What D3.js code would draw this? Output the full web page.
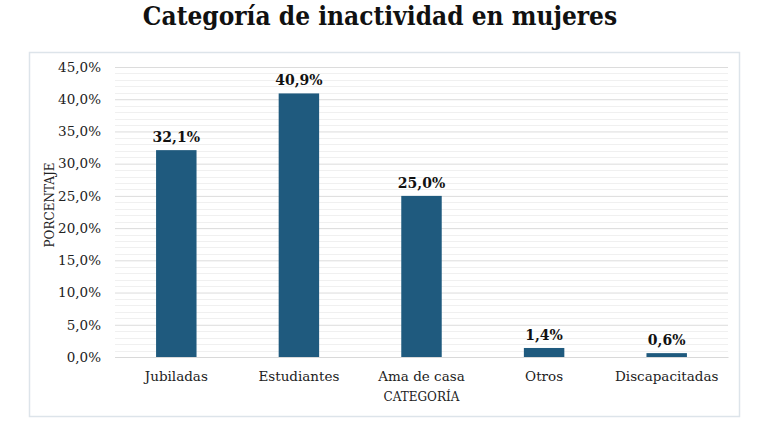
<!DOCTYPE html>
<html><head><meta charset="utf-8">
<script src="https://cdn.jsdelivr.net/npm/d3@7"></script>
<style>body{margin:0;background:#fff;} svg{display:block;}</style>
</head><body>
<svg id="c" width="768" height="437"></svg>
<script>
const categories = ["Jubiladas","Estudiantes","Ama de casa","Otros","Discapacitadas"];
const values = [32.1, 40.9, 25.0, 1.4, 0.6];
const yTicks = [0,5,10,15,20,25,30,35,40,45];
const minorTicks = d3.range(0,46,1);
const title = "Categoría de inactividad en mujeres";
const yTitle = "PORCENTAJE";
const xTitle = "CATEGORÍA";

(function(){
const svg = d3.select("#c");
const font = "'DejaVu Serif', serif";
const pL = 115, pR = 728, pT = 67, pB = 357;
const fmt = v => v.toFixed(1).replace(".", ",") + "%";

// outer frame
svg.append("rect").attr("x",29.5).attr("y",52.5).attr("width",710).attr("height",364)
  .attr("fill","#fff").attr("stroke","#dde4ea").attr("stroke-width",1.5);

svg.append("text").attr("x",380).attr("y",25).attr("text-anchor","middle")
  .attr("font-family","'DejaVu Serif Condensed', 'DejaVu Serif', serif").attr("font-weight","bold").attr("font-size",26)
  .attr("fill","#111").text(title);

const x = d3.scaleBand().domain(categories).range([pL,pR]).paddingInner(0.67).paddingOuter(0.335);
const y = d3.scaleLinear().domain([0,45]).range([pB,pT]);

// minor grid
svg.append("g").selectAll("line").data(minorTicks.filter(d=>d%5!==0)).join("line")
  .attr("x1",pL).attr("x2",pR).attr("y1",d=>Math.round(y(d))+0.5).attr("y2",d=>Math.round(y(d))+0.5)
  .attr("stroke","#f0f0f0").attr("stroke-width",1);

// major grid via axis
const ga = svg.append("g").attr("transform",`translate(${pL},0)`)
  .call(d3.axisLeft(y).tickValues(yTicks).tickFormat(fmt).tickSize(-(pR-pL)).tickPadding(14));
ga.select(".domain").remove();
ga.selectAll(".tick line").attr("stroke","#dcdcdc");
ga.selectAll(".tick text").attr("font-family",font).attr("font-size",13.5).attr("fill","#222");

// bars
svg.append("g").selectAll("rect").data(values).join("rect")
  .attr("x",(d,i)=>x(categories[i])).attr("width",x.bandwidth())
  .attr("y",d=>y(d)).attr("height",d=>pB-y(d)).attr("fill","#1f5a7e");

// value labels
svg.append("g").selectAll("text").data(values).join("text")
  .attr("x",(d,i)=>x(categories[i])+x.bandwidth()/2).attr("y",d=>y(d)-8)
  .attr("text-anchor","middle").attr("font-family",font).attr("font-weight","bold")
  .attr("font-size",14).attr("fill","#111").text(fmt);

// x axis labels
const gx = svg.append("g").attr("transform",`translate(0,${pB})`)
  .call(d3.axisBottom(x).tickSize(0).tickPadding(14));
gx.select(".domain").attr("stroke","#d9d9d9");
gx.selectAll(".tick text").attr("font-family",font).attr("font-size",13.5).attr("fill","#222");

svg.append("text").attr("x",x("Ama de casa")+x.bandwidth()/2).attr("y",401).attr("text-anchor","middle")
  .attr("font-family",font).attr("font-size",12).attr("fill","#222").text(xTitle);

svg.append("text").attr("transform","translate(54,205) rotate(-90)").attr("text-anchor","middle")
  .attr("font-family",font).attr("font-size",12).attr("fill","#222").text(yTitle);
})();
</script>
</body></html>
